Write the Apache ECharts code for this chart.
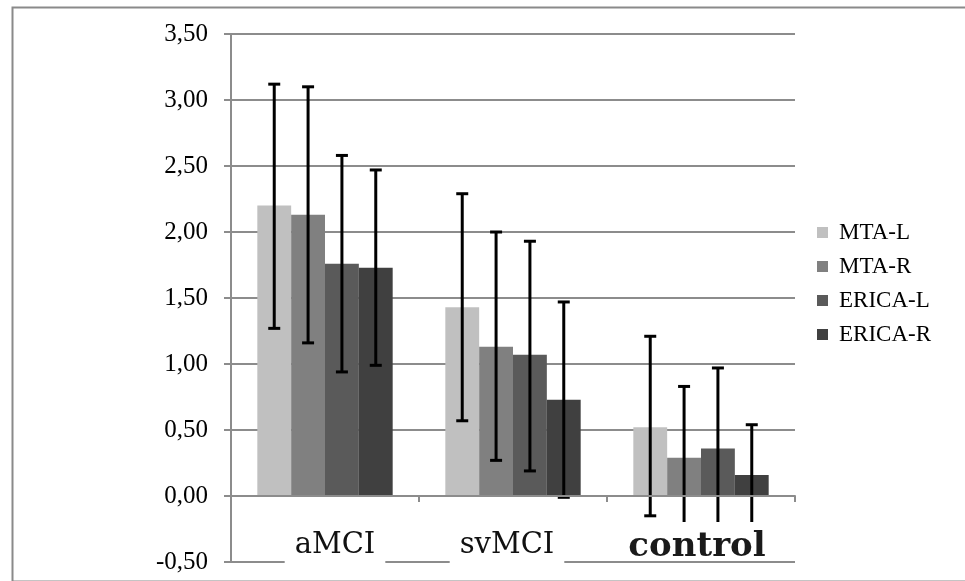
<!DOCTYPE html>
<html>
<head>
<meta charset="utf-8">
<script src="https://cdn.jsdelivr.net/npm/echarts@6/dist/echarts.min.js"></script>
<style>
  html, body { margin: 0; padding: 0; background: #fff; }
  #chart { width: 965px; height: 581px; }
</style>
</head>
<body>
<div id="chart"></div>
<script>
// Groups along the x axis and the four measures shown in each group
const categories = ['aMCI', 'svMCI', 'control'];
const seriesNames = ['MTA-L', 'MTA-R', 'ERICA-L', 'ERICA-R'];

// Mean values per group
const mtaL   = [2.20, 1.43, 0.52];
const mtaR   = [2.13, 1.13, 0.29];
const ericaL = [1.76, 1.07, 0.36];
const ericaR = [1.73, 0.73, 0.16];

// Error bar ranges (low / high) per group
const mtaLLow    = [1.27, 0.57, -0.15];
const mtaLHigh   = [3.12, 2.29, 1.21];
const mtaRLow    = [1.16, 0.27, -0.25];
const mtaRHigh   = [3.10, 2.00, 0.83];
const ericaLLow  = [0.94, 0.19, -0.25];
const ericaLHigh = [2.58, 1.93, 0.97];
const ericaRLow  = [0.99, -0.01, -0.22];
const ericaRHigh = [2.47, 1.47, 0.54];

// Value axis ticks
const yTicks = [-0.5, 0, 0.5, 1, 1.5, 2, 2.5, 3, 3.5];

const means = [mtaL, mtaR, ericaL, ericaR];
const lows = [mtaLLow, mtaRLow, ericaLLow, ericaRLow];
const highs = [mtaLHigh, mtaRHigh, ericaLHigh, ericaRHigh];
const colors = ['#c0c0c0', '#808080', '#5a5a5a', '#404040'];

const CATEGORY_GAP = 0.28;
const gridColor = '#8c8c8c';

function errorBarRenderer(seriesIdx) {
  return function (params, api) {
    const cat = api.value(0);
    const band = api.size([1, 0])[0];
    const groupW = band * (1 - CATEGORY_GAP);
    const barW = groupW / seriesNames.length;
    const cx = api.coord([cat, 0])[0] - groupW / 2 + barW * (seriesIdx + 0.5);
    const yLow = api.coord([cat, api.value(1)])[1];
    const yHigh = api.coord([cat, api.value(2)])[1];
    const cap = 6;
    const style = { stroke: '#000', lineWidth: 3 };
    return {
      type: 'group',
      children: [
        { type: 'line', shape: { x1: cx, y1: yLow, x2: cx, y2: yHigh }, style: style },
        { type: 'line', shape: { x1: cx - cap, y1: yHigh, x2: cx + cap, y2: yHigh }, style: style },
        { type: 'line', shape: { x1: cx - cap, y1: yLow, x2: cx + cap, y2: yLow }, style: style }
      ]
    };
  };
}

const barSeries = seriesNames.map(function (name, i) {
  return {
    name: name,
    type: 'bar',
    data: means[i],
    barGap: '0%',
    barCategoryGap: (CATEGORY_GAP * 100) + '%',
    itemStyle: { color: colors[i] },
    z: 2
  };
});

const errSeries = seriesNames.map(function (name, i) {
  return {
    name: name + ' range',
    type: 'custom',
    renderItem: errorBarRenderer(i),
    data: categories.map(function (c, k) { return [k, lows[i][k], highs[i][k]]; }),
    encode: { x: 0, y: [1, 2] },
    z: 3,
    silent: true
  };
});

// Category label boxes: a spacer token nudges each white box sideways
const labelFormat = {
  aMCI: '{sp20| }{a|aMCI}',
  svMCI: '{a|svMCI}{sp12| }',
  control: '{c|control}{sp8| }'
};

const chart = echarts.init(document.getElementById('chart'), null, { renderer: 'canvas' });
chart.setOption({
  animation: false,
  backgroundColor: '#fff',
  grid: {
    left: 231, right: 170, top: 34, bottom: 19,
    containLabel: false,
    outerBoundsMode: 'none'
  },
  legend: {
    data: seriesNames,
    orient: 'vertical',
    left: 812,
    top: 216,
    itemWidth: 11,
    itemHeight: 11,
    itemGap: 11,
    icon: 'rect',
    selectedMode: false,
    textStyle: {
      fontFamily: 'Liberation Serif',
      fontSize: 23,
      color: '#000',
      lineHeight: 21,
      padding: [0, 0, 0, 6]
    }
  },
  xAxis: {
    type: 'category',
    data: categories,
    z: 10,
    axisLine: { onZero: true, lineStyle: { color: gridColor, width: 2 } },
    axisTick: { show: true, alignWithLabel: false, length: 6, lineStyle: { color: gridColor, width: 2 } },
    splitLine: { show: false },
    axisLabel: {
      margin: -44,
      interval: 0,
      formatter: function (v) { return labelFormat[v]; },
      rich: {
        a: {
          fontFamily: 'DejaVu Serif',
          fontSize: 29,
          color: '#111',
          backgroundColor: '#fff',
          height: 30,
          padding: [12, 10, 4, 10],
          lineHeight: 30
        },
        c: {
          fontFamily: 'DejaVu Serif',
          fontWeight: 'bold',
          fontSize: 34,
          color: '#1a1a1a',
          backgroundColor: '#fff',
          height: 24,
          lineHeight: 24,
          padding: [13, 6, 1, 6]
        },
        sp20: { width: 20, height: 46, lineHeight: 46 },
        sp12: { width: 12, height: 46, lineHeight: 46 },
        sp8: { width: 8, height: 46, lineHeight: 46 }
      }
    }
  },
  yAxis: {
    type: 'value',
    min: yTicks[0],
    max: yTicks[yTicks.length - 1],
    interval: 0.5,
    z: 0,
    axisLine: { show: true, lineStyle: { color: gridColor, width: 2 } },
    axisTick: { show: true, length: 7, lineStyle: { color: gridColor, width: 2 } },
    splitLine: { show: true, lineStyle: { color: gridColor, width: 2 } },
    axisLabel: {
      margin: 23,
      fontFamily: 'Liberation Serif',
      fontSize: 25,
      color: '#000',
      formatter: function (v) { return v.toFixed(2).replace('.', ','); }
    }
  },
  graphic: [{
    type: 'rect',
    left: 10,
    top: 5,
    shape: { width: 970, height: 574 },
    style: { fill: 'none', stroke: '#8a8a8a', lineWidth: 2 },
    silent: true,
    z: -1
  }],
  series: barSeries.concat(errSeries)
});
</script>
</body>
</html>
